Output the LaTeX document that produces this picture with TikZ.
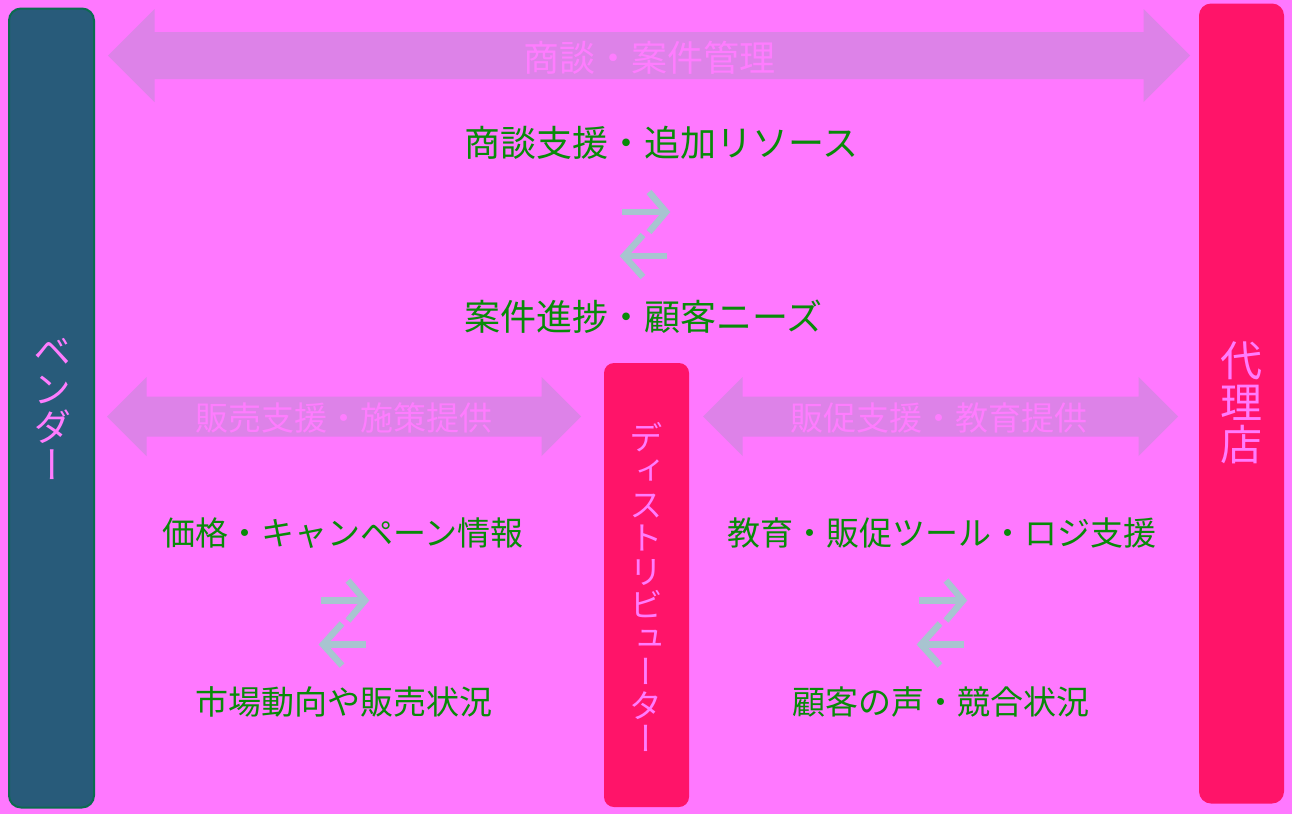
\documentclass[tikz,border=0pt]{standalone}
\usepackage{fontspec}
\setmainfont{Noto Sans CJK JP}
\newfontfamily\vertfont[RawFeature=+vert]{Noto Sans CJK JP}
\usetikzlibrary{calc}
\definecolor{bgc}{HTML}{FF78FF}
\definecolor{arrowc}{HTML}{DD82E8}
\definecolor{vendorfill}{HTML}{285B7A}
\definecolor{vendorline}{HTML}{0B6B50}
\definecolor{redbox}{HTML}{FF1469}
\definecolor{labelpink}{HTML}{FF7CFF}
\definecolor{greentext}{HTML}{088A08}
\definecolor{swapc}{HTML}{A8C4D0}
\newcommand\dblarrow[5]{%
  \fill[arrowc] (#1,#3) -- ({#1+#5},{#3-#5}) -- ({#1+#5},{#3-#4}) -- ({#2-#5},{#3-#4})
    -- ({#2-#5},{#3-#5}) -- (#2,#3) -- ({#2-#5},{#3+#5}) -- ({#2-#5},{#3+#4})
    -- ({#1+#5},{#3+#4}) -- ({#1+#5},{#3+#5}) -- cycle;}
\tikzset{
  actorbox/.style={rounded corners=12pt, inner sep=0pt},
  vlabel/.style={text=labelpink, align=center, inner sep=0pt},
  arrowlabel/.style={text=labelpink, inner sep=0pt},
  flowtext/.style={text=greentext, inner sep=0pt, font=\fontsize{33}{36}\selectfont},
  swapline/.style={draw=swapc, line width=6.5pt},
  swap/.pic={
    \draw[swapline] (-23,-22) -- (20,-22);
    \draw[swapline] (4,-42) -- (21,-22) -- (4,-2);
    \draw[swapline] (-20,22) -- (22,22);
    \draw[swapline] (-2,1) -- (-21,22) -- (-2,43);
  }
}
\begin{document}
\begin{tikzpicture}[x=1pt,y=-1pt]
\fill[bgc] (0,0) rectangle (1292,814);
\useasboundingbox (0,0) rectangle (1292,814);

% actors
\node[actorbox, draw=vendorline, line width=2pt, fill=vendorfill,
      minimum width=85pt, minimum height=799pt] (vendor) at (51.5,408) {};
\node[actorbox, fill=redbox, minimum width=85pt, minimum height=800pt] (agent) at (1241.5,403.5) {};
\node[actorbox, rounded corners=10pt, fill=redbox, minimum width=85pt, minimum height=444pt] (dist) at (646.5,585) {};

\node[vlabel, font=\vertfont\fontsize{38}{38}\selectfont] (vendortext) at (52,409)
  {ベ\\ン\\ダ\\ー};
\node[vlabel, font=\fontsize{42}{42}\selectfont] (agenttext) at (1241,403)
  {代\\理\\店};
\node[vlabel, font=\vertfont\fontsize{33.5}{33.5}\selectfont] (disttext) at (646,587)
  {デ\\ィ\\ス\\ト\\リ\\ビ\\ュ\\ー\\タ\\ー};

% big double arrows
\dblarrow{108}{1190}{55.5}{23.5}{46.5}
\dblarrow{107}{581}{416.5}{20}{39.5}
\dblarrow{703}{1178}{416.5}{20}{39.5}

\node[arrowlabel, font=\fontsize{36}{38}\selectfont] (toplabel) at (649,58) {商談・案件管理};
\node[arrowlabel, font=\fontsize{33}{36}\selectfont] (leftlabel) at (344,418) {販売支援・施策提供};
\node[arrowlabel, font=\fontsize{33}{36}\selectfont] (rightlabel) at (939,418) {販促支援・教育提供};

% flows
\node[flowtext, font=\fontsize{36}{38}\selectfont, anchor=west] (t1) at (464,143) {商談支援・追加リソース};
\node[flowtext, font=\fontsize{36}{38}\selectfont, anchor=west] (t2) at (464,317) {案件進捗・顧客ニーズ};
\pic at (645,234) {swap};

\node[flowtext] (l1) at (343,533) {価格・キャンペーン情報};
\node[flowtext] (l2) at (343.5,702) {市場動向や販売状況};
\pic at (344,622.5) {swap};

\node[flowtext] (r1) at (942,533) {教育・販促ツール・ロジ支援};
\node[flowtext] (r2) at (941,702) {顧客の声・競合状況};
\pic at (942,622.5) {swap};
\end{tikzpicture}
\end{document}
